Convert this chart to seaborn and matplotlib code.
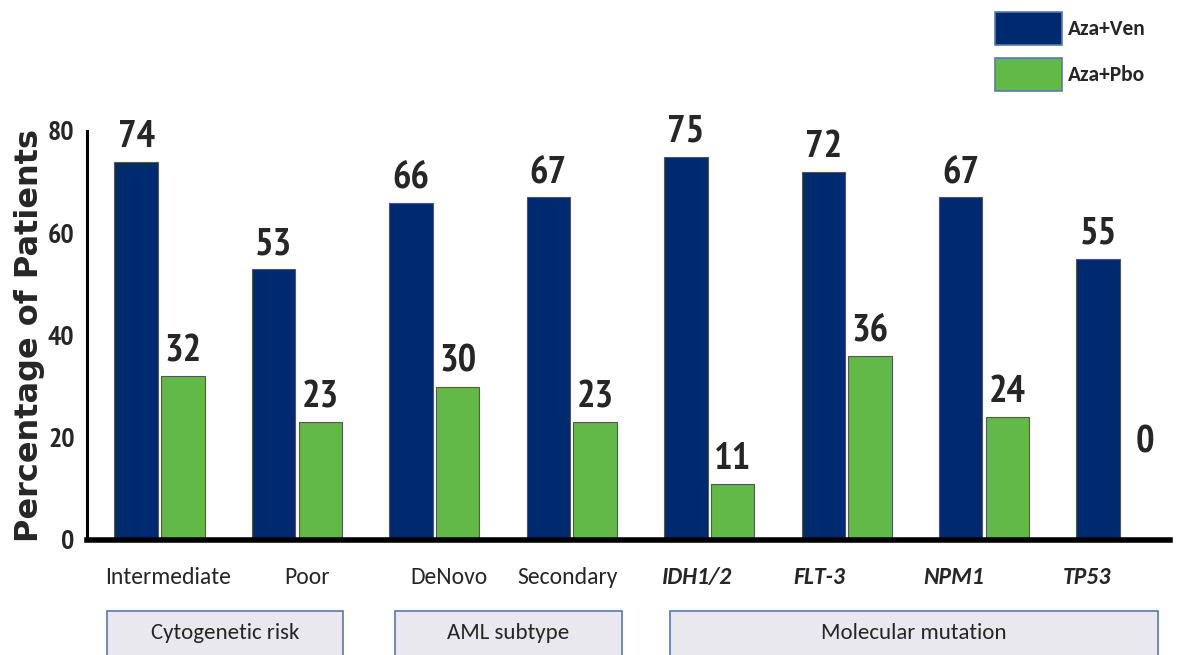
import matplotlib
matplotlib.use("Agg")
import matplotlib.pyplot as plt
import matplotlib.transforms as mtransforms
from matplotlib.patches import Rectangle, Patch
import seaborn as sns
import pandas as pd

categories = ["Intermediate", "Poor", "DeNovo", "Secondary", "IDH1/2", "FLT-3", "NPM1", "TP53"]
italic_cats = ["IDH1/2", "FLT-3", "NPM1", "TP53"]
aza_ven = [74, 53, 66, 67, 75, 72, 67, 55]
aza_pbo = [32, 23, 30, 23, 11, 36, 24, 0]
series_names = ["Aza+Ven", "Aza+Pbo"]
groups = ["Cytogenetic risk", "AML subtype", "Molecular mutation"]
group_spans = [(-0.38, 1.335), (1.713, 3.364), (3.713, 7.262)]
label_offsets = [0.06, 0.07, 0.11, -0.03, -0.09, -0.2, -0.22, -0.25]
yticks = [0, 20, 40, 60, 80]

NARROW = ["PT Sans Narrow", "DejaVu Sans"]
CAL = ["Carlito", "DejaVu Sans"]

sns.set_theme(style="white")
plt.rcParams["font.family"] = ["DejaVu Sans"]

df = pd.DataFrame({
    "cat": categories * 2,
    "val": aza_ven + aza_pbo,
    "series": [series_names[0]] * len(categories) + [series_names[1]] * len(categories),
})
colors = {"Aza+Ven": "#002a70", "Aza+Pbo": "#63b947"}

fig = plt.figure(figsize=(11.78, 6.55), dpi=100)
ax = fig.add_axes([0.0739, 0.1756, 0.919, 0.6244])
sns.barplot(data=df, x="cat", y="val", hue="series", palette=colors, order=categories,
            width=0.68, gap=0.07, dodge=True, ax=ax, legend=False,
            edgecolor="#555555", linewidth=0.8, saturation=1)

ax.set_ylim(0, 80)
ax.set_xlim(-0.527, 7.35)
ax.set_yticks(yticks)
ax.set_yticklabels([str(t) for t in yticks], fontfamily=NARROW, fontweight="bold", fontsize=20)
ax.tick_params(axis="y", length=7, width=2, color="black", direction="out", pad=2)
ax.tick_params(axis="x", length=0)
ax.set_xticks(range(len(categories)))
ax.set_xticklabels([])
for sp in ["top", "right"]:
    ax.spines[sp].set_visible(False)
ax.spines["left"].set_linewidth(2.2)
ax.spines["left"].set_color("black")
ax.spines["bottom"].set_linewidth(4)
ax.spines["bottom"].set_color("black")
ax.set_xlabel("")
ax.set_ylabel("Percentage of Patients", fontsize=23, fontweight="bold",
              fontfamily="DejaVu Sans")
ax.yaxis.set_label_coords(-0.039, 0.5)

# value labels
for cont, vals in zip(ax.containers, [aza_ven, aza_pbo]):
    labs = [str(v) if v > 0 else "" for v in vals]
    ax.bar_label(cont, labels=labs, padding=5, fontsize=28, fontweight="bold",
                 fontfamily=NARROW, clip_on=False)
    for rect, v in zip(cont, vals):
        if v == 0:
            ax.text(rect.get_x() + rect.get_width() / 2, 15.5, "0", ha="center", va="bottom",
                    fontsize=28, fontweight="bold", fontfamily=NARROW)

# category labels
for i, (c, off) in enumerate(zip(categories, label_offsets)):
    it = c in italic_cats
    ax.text(i + off, -5.2, c, ha="center", va="top", fontsize=17, fontfamily=CAL,
            fontstyle="italic" if it else "normal",
            fontweight="bold" if it else "normal", clip_on=False)

# group boxes
trans = mtransforms.blended_transform_factory(ax.transData, fig.transFigure)
for name, (x0, x1) in zip(groups, group_spans):
    r = Rectangle((x0, -0.02), x1 - x0, 0.087, transform=trans, facecolor="#e8e8ee",
                  edgecolor="#5b79a8", linewidth=1.2, clip_on=False, zorder=5)
    ax.add_patch(r)
    ax.text((x0 + x1) / 2, 0.033, name, transform=trans, ha="center", va="center",
            fontsize=16.5, fontfamily=CAL, clip_on=False, zorder=6)

# legend
handles = [Patch(facecolor=colors[s], edgecolor="#5b79a8", linewidth=1.2) for s in series_names]
fig.legend(handles, series_names, loc="upper left", bbox_to_anchor=(0.828, 1.012),
           frameon=False, handlelength=3.12, handleheight=2.0, labelspacing=0.6,
           handletextpad=0.3, prop={"family": CAL, "size": 15.5, "weight": "bold"})

fig.savefig("out.png", dpi=100)
